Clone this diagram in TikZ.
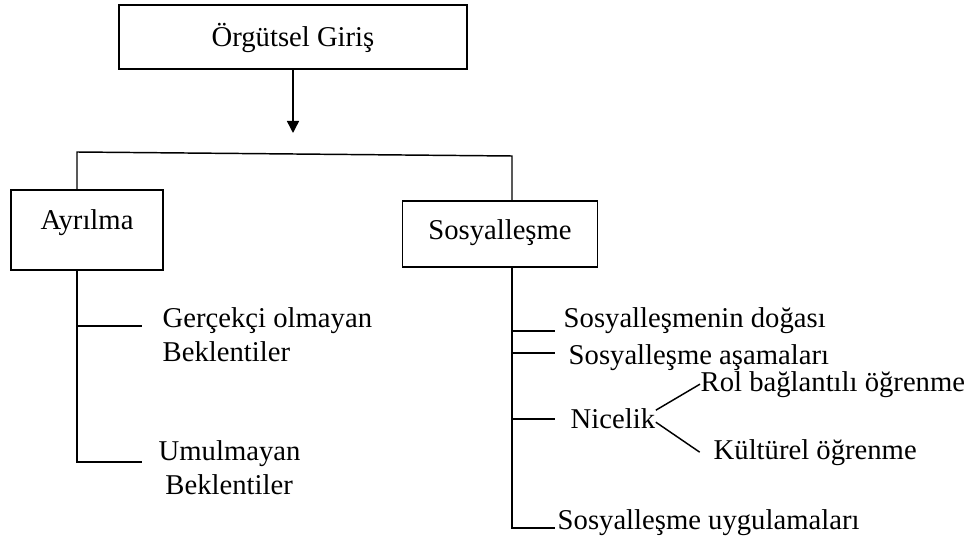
\documentclass[tikz,border=0pt]{standalone}
\usepackage{fontspec}
\setmainfont{Liberation Serif}
\usepackage{tikz}
\usetikzlibrary{arrows.meta,positioning}

\begin{document}
\begin{tikzpicture}[
  x=0.75pt,y=-0.75pt,
  font=\fontsize{21.5pt}{25pt}\selectfont,
  line width=1.1pt,
  box/.style={draw,inner sep=0pt,text height=16pt,text depth=8pt},
  leaf/.style={anchor=base west,inner sep=0pt,align=left},
  arrow/.style={-{Triangle[length=9pt,width=9pt]}}
]
\useasboundingbox (0,0) rectangle (973,541);

\node[box,minimum width=261pt,minimum height=48pt,text height=20pt,text depth=6pt] (giris) at (293,37) {Örgütsel Giriş};
\node[box,minimum width=114pt,minimum height=60pt,text height=5pt,text depth=5pt] (ayrilma) at (87,230) {Ayrılma};
\node[box,minimum width=146pt,minimum height=49.5pt,text height=17pt,text depth=9pt] (sosyal) at (500,234) {Sosyalleşme};

\coordinate (split) at (293,133);
\coordinate (ltop) at (77,152);
\coordinate (rtop) at (512,156);

\draw[arrow] (giris) -- (split);
\draw (ayrilma.north -| ltop) -- (ltop) -- (rtop) -- (sosyal.north -| rtop);

% Ayrilma dali
\node[leaf] (gercekci) at (162,361) {Gerçekçi olmayan\\Beklentiler};
\node[leaf] (umulmayan) at (158,494) {Umulmayan\\\hspace*{5pt}Beklentiler};
\coordinate (lb1) at (142,326);
\coordinate (lb2) at (142,462);
\draw (ayrilma.south -| ltop) |- (lb2);
\draw (ltop |- lb1) -- (lb1);

% Sosyallesme dali
\node[leaf] (dogasi) at (563,327) {Sosyalleşmenin doğası};
\node[leaf] (asama) at (568,364) {Sosyalleşme aşamaları};
\node[leaf] (nicelik) at (570,428) {Nicelik};
\node[leaf] (rol) at (700,391) {Rol bağlantılı öğrenme};
\node[leaf] (kultur) at (713,459) {Kültürel öğrenme};
\node[leaf] (uygulama) at (557,529) {Sosyalleşme uygulamaları};
\coordinate (rb1) at (555,331);
\coordinate (rb2) at (555,353);
\coordinate (rb3) at (555,419);
\coordinate (rb4) at (555,528);
\draw (sosyal.south -| rtop) |- (rb4);
\foreach \b in {rb1,rb2,rb3}
  \draw (rtop |- \b) -- (\b);
\draw ([yshift=6pt]nicelik.east) -- (rol.west);
\draw ([yshift=-3pt]nicelik.east) -- ([xshift=-10pt]kultur.west);
\end{tikzpicture}
\end{document}
